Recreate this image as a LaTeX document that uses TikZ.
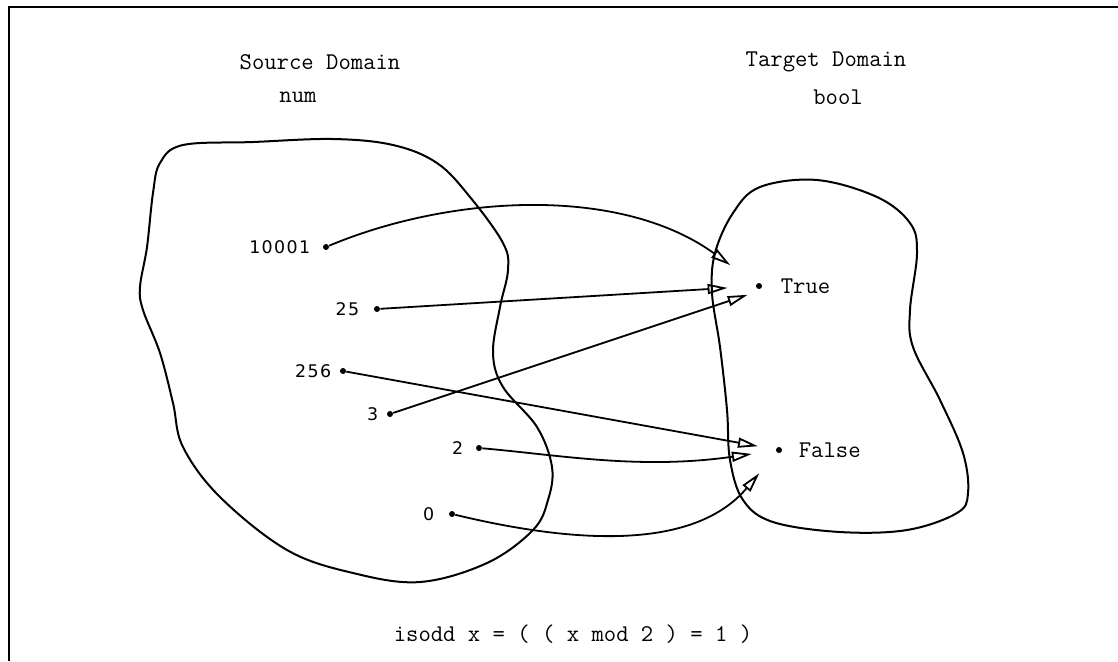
\documentclass[tikz,border=0pt]{standalone}
\usepackage{fontspec}
\newfontfamily\numfont[LetterSpace=8]{DejaVu Sans}
\usetikzlibrary{arrows.meta, positioning}

\begin{document}
\begin{tikzpicture}[
  x=0.5pt, y=-0.5pt,
  node distance=5pt,
  dot/.style={circle, fill, inner sep=0pt, minimum size=3pt},
  numlabel/.style={inner sep=0pt, font=\numfont\fontsize{8.7}{10}\selectfont},
  vallabel/.style={inner sep=0pt, font=\ttfamily\fontsize{12}{14}\selectfont},
  headtext/.style={inner sep=0pt, font=\ttfamily\fontsize{12}{14}\selectfont},
  blob/.style={line width=1pt},
  arr/.style={-{Triangle[open, length=10pt, width=5pt]}, line width=0.9pt}
]
  \useasboundingbox (0,0) rectangle (1118,661);
  \draw[line width=1pt] (9,661) -- (9,7) -- (1118,7);

  % headings
  \node[headtext] (srchead) at (320,62) {Source Domain};
  \node[headtext] (srctype) at (298,97) {num};
  \node[headtext] (tgthead) at (826,62) {Target Domain};
  \node[headtext] (tgttype) at (838,97) {bool};

  % the two domains
  \draw[blob] plot[smooth cycle, tension=0.6] coordinates {
    (183,145) (253,142) (333,139) (393,145) (437,163) (470,197) (503,243)
    (508,270) (500,307) (493,353) (503,387) (537,427) (552,467) (548,500)
    (533,530) (487,563) (420,582) (353,573) (287,550) (220,497) (183,447)
    (173,403) (160,353) (143,310) (140,287) (147,247) (153,193) (160,163)};
  \draw[blob] plot[smooth cycle, tension=0.6] coordinates {
    (760,187) (817,180) (877,197) (910,223) (917,253) (910,310) (913,347)
    (940,400) (963,453) (968,493) (957,513) (907,530) (840,532) (773,522)
    (743,500) (730,460) (727,410) (720,347) (712,293) (715,253) (733,213)};

  % source values
  \node[dot] (d10001) at (326,247) {};
  \node[dot] (d25) at (377,309) {};
  \node[dot] (d256) at (343,371) {};
  \node[dot] (d3) at (390,414) {};
  \node[dot] (d2) at (479,448) {};
  \node[dot] (d0) at (452,514) {};
  \node[numlabel, left=6pt of d10001] (l10001) {10001};
  \node[numlabel, left=7pt of d25] (l25) {25};
  \node[numlabel, left=4pt of d256] (l256) {256};
  \node[numlabel, left=4pt of d3] (l3) {3};
  \node[numlabel, left=6pt of d2] (l2) {2};
  \node[numlabel, left=7pt of d0] (l0) {0};

  % target values
  \node[dot] (dtrue) at (759,286) {};
  \node[dot] (dfalse) at (779,450) {};
  \node[vallabel, right=9pt of dtrue] (ltrue) {True};
  \node[vallabel, right=8pt of dfalse] (lfalse) {False};

  % the mapping
  \draw[arr, shorten >=16pt] (d10001) .. controls (450,195) and (620,185) .. (dtrue);
  \draw[arr, shorten >=14pt] (d25) -- (dtrue);
  \draw[arr, shorten >=6pt] (d3) -- ([yshift=-2.5pt]dtrue.center);
  \draw[arr, shorten >=9pt] (d256) -- (dfalse);
  \draw[arr, shorten >=12pt] (d2) .. controls (560,455) and (640,470) .. (dfalse);
  \draw[arr, shorten >=13.5pt] (d0) .. controls (560,540) and (690,555) .. (dfalse);

  \node[headtext] (formula) at (573,634) {isodd x = ( ( x mod 2 ) = 1 )};
\end{tikzpicture}
\end{document}
